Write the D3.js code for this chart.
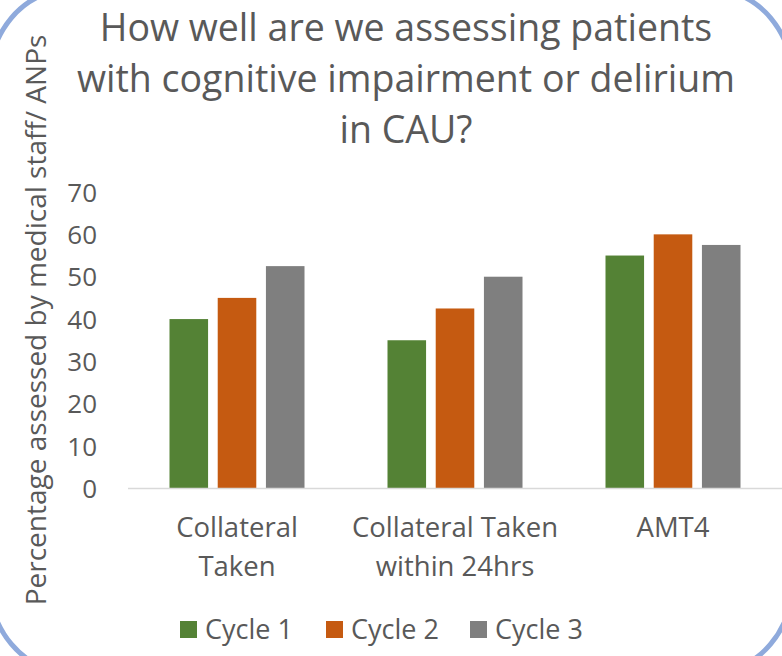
<!DOCTYPE html>
<html>
<head>
<meta charset="utf-8">
<script src="https://cdn.jsdelivr.net/npm/d3@7"></script>
<style>
  body { margin: 0; background: #fff; }
  text { font-family: "Open Sans", sans-serif; fill: #595959; }
</style>
</head>
<body>
<div id="chart"></div>
<script>
// categories and series
var categories = [["Collateral", "Taken"], ["Collateral Taken", "within 24hrs"], ["AMT4"]];
var seriesNames = ["Cycle 1", "Cycle 2", "Cycle 3"];
var cycle1 = [40, 35, 55];
var cycle2 = [45, 42.5, 60];
var cycle3 = [52.5, 50, 57.5];
var yTicks = [0, 10, 20, 30, 40, 50, 60, 70];
var titleLines = ["How well are we assessing patients", "with cognitive impairment or delirium", "in CAU?"];
var yTitle = "Percentage assessed by medical staff/ ANPs";

var colors = ["#548235", "#c55a11", "#7f7f7f"];
var series = [cycle1, cycle2, cycle3];

var W = 782, H = 656;
var margin = {top: 192, right: 0, bottom: 168, left: 128};
var width = W - margin.left - margin.right;
var height = H - margin.top - margin.bottom;

var svg = d3.select("#chart").append("svg")
  .attr("width", W)
  .attr("height", H);

// rounded frame, partly outside the view
svg.append("rect")
  .attr("x", -12).attr("y", -10)
  .attr("width", W + 24).attr("height", H + 26)
  .attr("rx", 80).attr("ry", 95)
  .attr("fill", "none")
  .attr("stroke", "#8faadc")
  .attr("stroke-width", 5);

var g = svg.append("g")
  .attr("transform", "translate(" + margin.left + "," + margin.top + ")");

var x0 = d3.scaleBand()
  .domain(d3.range(categories.length))
  .range([0, width]);

var x1 = d3.scaleBand()
  .domain(d3.range(series.length))
  .range([0, 135])
  .paddingInner(0.2);

var y = d3.scaleLinear()
  .domain([0, 70])
  .range([height + 0.5, 0]);

// y axis labels
var yAxis = d3.axisLeft(y).tickValues(yTicks).tickSize(0).tickPadding(31);
var ya = g.append("g").call(yAxis);
ya.select(".domain").remove();
ya.selectAll("text")
  .style("font-size", "26px")
  .attr("fill", "#595959")
  .attr("dy", "0.35em");

// bars
var groups = g.selectAll(".grp")
  .data(categories)
  .enter().append("g")
  .attr("class", "grp")
  .attr("transform", function(d, i) {
    return "translate(" + (x0(i) + x0.bandwidth() / 2 - 67.5) + ",0)";
  });

groups.selectAll("rect")
  .data(function(d, i) {
    return series.map(function(s, j) { return {s: j, v: s[i]}; });
  })
  .enter().append("rect")
  .attr("x", function(d) { return x1(d.s); })
  .attr("width", x1.bandwidth())
  .attr("y", function(d) { return y(d.v); })
  .attr("height", function(d) { return y(0) - y(d.v); })
  .attr("fill", function(d) { return colors[d.s]; });

// baseline
g.append("line")
  .attr("x1", 0).attr("x2", width)
  .attr("y1", y(0)).attr("y2", y(0))
  .attr("stroke", "#d9d9d9")
  .attr("stroke-width", 1.5);

// category labels
groups.each(function(lines, i) {
  var t = d3.select(this).append("text")
    .attr("text-anchor", "middle")
    .attr("x", 67.5)
    .attr("y", height + 49)
    .style("font-size", "27.5px");
  lines.forEach(function(l, k) {
    t.append("tspan").attr("x", 67.5).attr("dy", k === 0 ? 0 : 39).text(l);
  });
});

// title
var title = svg.append("text")
  .attr("text-anchor", "middle")
  .attr("x", 406)
  .attr("y", 41)
  .style("font-size", "37.5px");
titleLines.forEach(function(l, k) {
  title.append("tspan").attr("x", 406).attr("dy", k === 0 ? 0 : 51).text(l);
});

// y title
svg.append("text")
  .attr("text-anchor", "middle")
  .attr("transform", "translate(46,320) rotate(-90)")
  .style("font-size", "28px")
  .text(yTitle);

// legend
var legend = svg.append("g").attr("transform", "translate(0,621)");
var legX = [180, 326, 470];
seriesNames.forEach(function(name, i) {
  legend.append("rect")
    .attr("x", legX[i]).attr("y", 0)
    .attr("width", 17).attr("height", 17)
    .attr("fill", colors[i]);
  legend.append("text")
    .attr("x", legX[i] + 25).attr("y", 18)
    .style("font-size", "27px")
    .text(name);
});
</script>
</body>
</html>
